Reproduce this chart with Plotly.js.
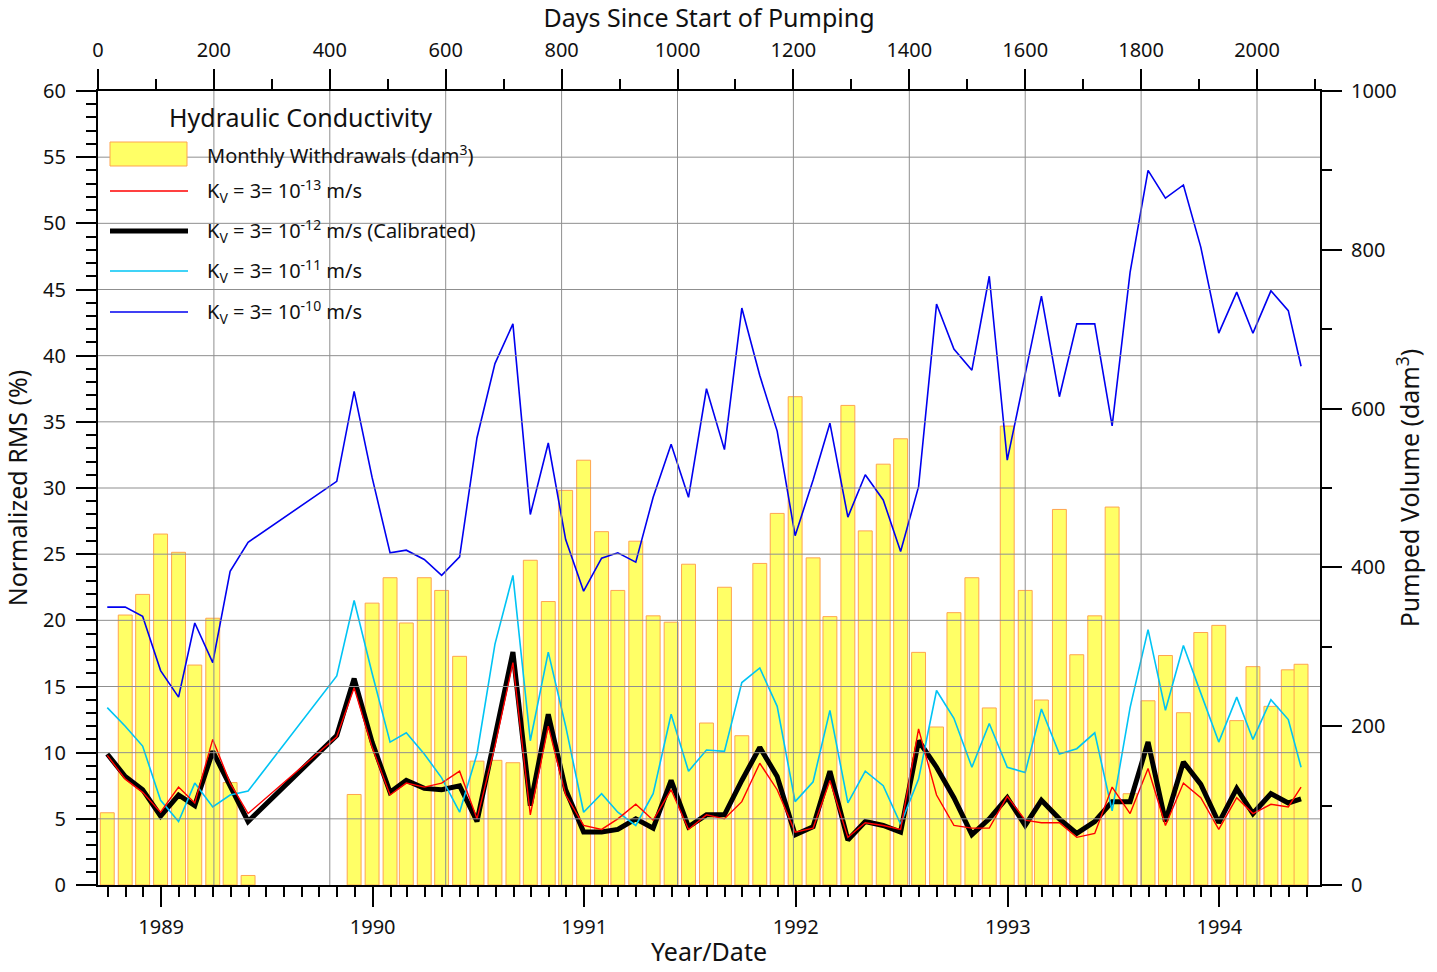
<!DOCTYPE html>
<html>
<head>
<meta charset="utf-8">
<script src="https://cdn.plot.ly/plotly-3.0.1.min.js"></script>
<style>
  html, body { margin: 0; padding: 0; background: #fff; }
  #chart { width: 1437px; height: 972px; }
</style>
</head>
<body>
<div id="chart"></div>
<script>
// Month-end dates of the simulation / withdrawal records
const dates = [
  '1988-09-30', '1988-10-31', '1988-11-30', '1988-12-31', '1989-01-31', '1989-02-28',
  '1989-03-31', '1989-04-30', '1989-05-31', '1989-06-30', '1989-07-31', '1989-08-31',
  '1989-09-30', '1989-10-31', '1989-11-30', '1989-12-31', '1990-01-31', '1990-02-28',
  '1990-03-31', '1990-04-30', '1990-05-31', '1990-06-30', '1990-07-31', '1990-08-31',
  '1990-09-30', '1990-10-31', '1990-11-30', '1990-12-31', '1991-01-31', '1991-02-28',
  '1991-03-31', '1991-04-30', '1991-05-31', '1991-06-30', '1991-07-31', '1991-08-31',
  '1991-09-30', '1991-10-31', '1991-11-30', '1991-12-31', '1992-01-31', '1992-02-29',
  '1992-03-31', '1992-04-30', '1992-05-31', '1992-06-30', '1992-07-31', '1992-08-31',
  '1992-09-30', '1992-10-31', '1992-11-30', '1992-12-31', '1993-01-31', '1993-02-28',
  '1993-03-31', '1993-04-30', '1993-05-31', '1993-06-30', '1993-07-31', '1993-08-31',
  '1993-09-30', '1993-10-31', '1993-11-30', '1993-12-31', '1994-01-31', '1994-02-28',
  '1994-03-31', '1994-04-30', '1994-05-22'
];

// Monthly withdrawals (dam3), right axis
const withdrawals = [
  91, 340, 366, 442, 419, 277, 336, 129, 12, null, null, null,
  null, null, 114, 355, 387, 330, 387, 371, 288, 156, 157, 154,
  409, 357, 497, 535, 445, 371, 433, 339, 331, 404, 204, 375,
  188, 405, 468, 615, 412, 338, 604, 446, 530, 562, 293, 199,
  343, 387, 223, 578, 371, 233, 473, 290, 339, 476, 115, 232,
  289, 217, 318, 327, 207, 275, 225, 271, 278
];

// Normalized RMS (%) for each vertical hydraulic conductivity, left axis
const rmsKv13 = [
  9.8, 8.0, 7.0, 5.5, 7.4, 6.2, 11.0, 7.7, 5.4, null, null, null,
  null, 11.2, 14.9, 10.4, 6.8, 7.7, 7.4, 7.7, 8.6, 5.0, 10.5, 16.8,
  5.3, 12.0, 6.8, 4.5, 4.2, 5.0, 6.1, 4.9, 7.2, 4.2, 5.3, 5.0,
  6.3, 9.2, 7.2, 4.0, 4.3, 7.9, 3.6, 4.7, 4.5, 4.2, 11.8, 6.8,
  4.5, 4.3, 4.3, 6.7, 4.9, 4.7, 4.7, 3.6, 3.9, 7.4, 5.4, 8.8,
  4.5, 7.7, 6.6, 4.2, 6.6, 5.4, 6.1, 5.9, 7.4
];
const rmsKv12 = [
  9.9, 8.2, 7.2, 5.2, 6.8, 6.0, 10.1, 7.4, 4.8, null, null, null,
  null, 11.3, 15.6, 10.8, 7.0, 7.9, 7.3, 7.2, 7.5, 4.8, 11.0, 17.6,
  6.0, 12.9, 7.2, 4.0, 4.0, 4.2, 5.0, 4.3, 7.9, 4.4, 5.3, 5.3,
  7.9, 10.4, 8.2, 3.8, 4.4, 8.6, 3.4, 4.8, 4.5, 4.0, 10.9, 8.9,
  6.6, 3.8, 5.0, 6.6, 4.5, 6.4, 5.0, 3.9, 4.8, 6.3, 6.3, 10.8,
  4.8, 9.3, 7.6, 4.7, 7.3, 5.4, 6.9, 6.2, 6.5
];
const rmsKv11 = [
  13.4, 12.0, 10.5, 6.4, 4.8, 7.7, 5.9, 6.8, 7.1, null, null, null,
  null, 15.8, 21.5, 16.0, 10.8, 11.5, 9.9, 8.1, 5.5, 9.9, 18.2, 23.4,
  10.9, 17.6, 12.0, 5.5, 6.9, 5.5, 4.5, 6.9, 12.9, 8.6, 10.2, 10.1,
  15.3, 16.4, 13.5, 6.3, 7.8, 13.2, 6.2, 8.6, 7.5, 4.6, 8.0, 14.7,
  12.6, 8.9, 12.2, 8.9, 8.5, 13.3, 9.9, 10.3, 11.5, 5.6, 13.4, 19.3,
  13.2, 18.1, 14.5, 10.8, 14.2, 11.0, 14.0, 12.5, 8.9
];
const rmsKv10 = [
  21.0, 21.0, 20.3, 16.2, 14.2, 19.8, 16.8, 23.7, 25.9, null, null, null,
  null, 30.5, 37.3, 30.8, 25.1, 25.3, 24.6, 23.4, 24.8, 33.8, 39.4, 42.4,
  28.0, 33.4, 26.1, 22.2, 24.7, 25.1, 24.4, 29.3, 33.3, 29.3, 37.5, 32.9,
  43.6, 38.5, 34.3, 26.4, 30.6, 34.9, 27.8, 31.0, 29.1, 25.2, 30.1, 43.9,
  40.5, 38.9, 46.0, 32.1, 38.6, 44.5, 36.9, 42.4, 42.4, 34.7, 46.3, 54.0,
  51.9, 52.9, 48.2, 41.7, 44.8, 41.7, 44.9, 43.4, 39.2
];

// Legend text
const legendTitle = 'Hydraulic Conductivity';
const legendLabels = [
  'Monthly Withdrawals (dam<sup>3</sup>)',
  'K<sub>V</sub> = 3= 10<sup>-13</sup> m/s',
  'K<sub>V</sub> = 3= 10<sup>-12</sup> m/s (Calibrated)',
  'K<sub>V</sub> = 3= 10<sup>-11</sup> m/s',
  'K<sub>V</sub> = 3= 10<sup>-10</sup> m/s'
];

const FONT = 'Noto Sans, Open Sans, DejaVu Sans, sans-serif';
const BAR_FILL = '#FFFF66';
const BAR_EDGE = '#FFA54F';
const GRID = '#8f8f8f';

// plot area in pixels
const PL = 98, PR = 1320, PT = 91, PB = 885;
const px = x => (x - PL) / (PR - PL);
const py = y => (PB - y) / (PB - PT);

const DAY = 86400000;

const traces = [
  {
    x: dates, y: withdrawals, type: 'bar', xaxis: 'x', yaxis: 'y',
    width: 24 * DAY,
    marker: { color: BAR_FILL, line: { color: BAR_EDGE, width: 1 } },
    hoverinfo: 'x+y'
  },
  {
    x: dates, y: rmsKv10, type: 'scatter', mode: 'lines', xaxis: 'x', yaxis: 'y2',
    connectgaps: true, line: { color: '#0000F0', width: 1.6 }
  },
  {
    x: dates, y: rmsKv12, type: 'scatter', mode: 'lines', xaxis: 'x', yaxis: 'y2',
    connectgaps: true, line: { color: '#000000', width: 5 }
  },
  {
    x: dates, y: rmsKv11, type: 'scatter', mode: 'lines', xaxis: 'x', yaxis: 'y2',
    connectgaps: true, line: { color: '#00C4F4', width: 1.6 }
  },
  {
    x: dates, y: rmsKv13, type: 'scatter', mode: 'lines', xaxis: 'x', yaxis: 'y2',
    connectgaps: true, line: { color: '#FF0000', width: 1.4 }
  }
];

// grid lines drawn over the bars
const shapes = [];
for (let v = 5; v < 60; v += 5) {
  shapes.push({ type: 'line', layer: 'above', xref: 'paper', x0: 0, x1: 1, yref: 'y2', y0: v, y1: v,
    line: { color: GRID, width: 1 } });
}
for (let d = 200; d <= 2000; d += 200) {
  shapes.push({ type: 'line', layer: 'above', xref: 'x2', x0: d, x1: d, yref: 'paper', y0: 0, y1: 1,
    line: { color: GRID, width: 1 } });
}

// hand-made legend
const rowY = [154, 191, 231, 271, 312];
shapes.push({ type: 'rect', layer: 'above', xref: 'paper', yref: 'paper',
  x0: px(110), x1: px(187), y0: py(166), y1: py(142),
  fillcolor: BAR_FILL, line: { color: BAR_EDGE, width: 1 } });
const legendLines = [
  { color: '#FF0000', width: 1.4 },
  { color: '#000000', width: 5 },
  { color: '#00C4F4', width: 1.6 },
  { color: '#0000F0', width: 1.6 }
];
legendLines.forEach((ln, i) => {
  shapes.push({ type: 'line', layer: 'above', xref: 'paper', yref: 'paper',
    x0: px(110), x1: px(188), y0: py(rowY[i + 1]), y1: py(rowY[i + 1]), line: ln });
});

const annotations = [{
  text: legendTitle, xref: 'paper', yref: 'paper', x: px(300), y: py(117),
  xanchor: 'center', yanchor: 'middle', showarrow: false,
  font: { family: FONT, size: 25, color: '#111' }
}];
legendLabels.forEach((t, i) => {
  annotations.push({
    text: t, xref: 'paper', yref: 'paper', x: px(205), y: py(rowY[i]),
    xanchor: 'left', yanchor: 'middle', showarrow: false,
    font: { family: FONT, size: 20, color: '#111' }
  });
});

const axisCommon = {
  showline: true, linecolor: '#000', linewidth: 2, mirror: false,
  ticks: 'outside', ticklen: 20, tickwidth: 2, tickcolor: '#000',
  showgrid: false, zeroline: false,
  tickfont: { family: FONT, size: 20, color: '#111' }
};

const layout = {
  width: 1437, height: 972,
  margin: { l: PL, r: 1437 - PR, t: PT, b: 972 - PB, pad: 0 },
  paper_bgcolor: '#fff', plot_bgcolor: '#fff',
  showlegend: false,
  barmode: 'overlay',
  font: { family: FONT, color: '#111' },
  xaxis: Object.assign({}, axisCommon, {
    type: 'date',
    range: ['1988-09-14', '1994-06-23 17:00'],
    tick0: '1989-01-01', dtick: 'M12', tickformat: '%Y',
    ticklabelstandoff: 3,
    minor: { dtick: 'M1', tick0: '1989-01-01', ticks: 'outside', ticklen: 10, tickwidth: 2, tickcolor: '#000', showgrid: false },
    title: { text: 'Year/Date', font: { family: FONT, size: 25, color: '#111' }, standoff: 4 },
    anchor: 'y'
  }),
  xaxis2: Object.assign({}, axisCommon, {
    overlaying: 'x', side: 'top', anchor: 'y',
    range: [0, 2108.7], tick0: 0, dtick: 200,
    ticklabelstandoff: 4,
    minor: { dtick: 100, ticks: 'outside', ticklen: 10, tickwidth: 2, tickcolor: '#000', showgrid: false },
    title: { text: 'Days Since Start of Pumping', font: { family: FONT, size: 25, color: '#111' }, standoff: 6 }
  }),
  yaxis: Object.assign({}, axisCommon, {
    side: 'right', anchor: 'x',
    range: [0, 1000], tick0: 0, dtick: 200,
    ticklabelstandoff: 5,
    minor: { dtick: 100, ticks: 'outside', ticklen: 10, tickwidth: 2, tickcolor: '#000', showgrid: false },
    title: { text: 'Pumped Volume (dam<sup>3</sup>)', font: { family: FONT, size: 25, color: '#111' }, standoff: 6 }
  }),
  yaxis2: Object.assign({}, axisCommon, {
    overlaying: 'y', side: 'left', anchor: 'x',
    range: [0, 60], tick0: 0, dtick: 5,
    ticklabelstandoff: 6,
    minor: { dtick: 1, ticks: 'outside', ticklen: 10, tickwidth: 2, tickcolor: '#000', showgrid: false },
    title: { text: 'Normalized RMS (%)', font: { family: FONT, size: 25, color: '#111' }, standoff: 14 }
  }),
  shapes: shapes,
  annotations: annotations
};

Plotly.newPlot('chart', traces, layout, { displayModeBar: false, staticPlot: true });
</script>
</body>
</html>
